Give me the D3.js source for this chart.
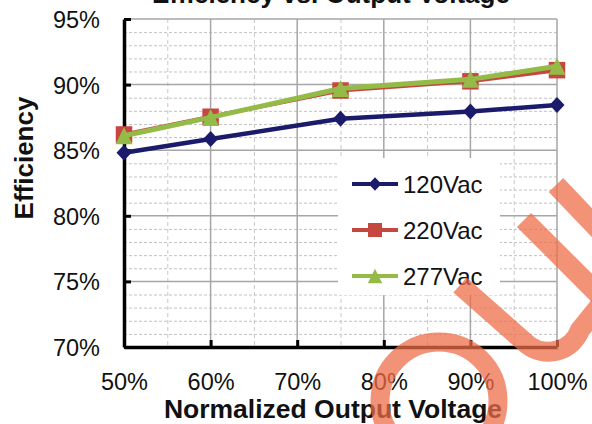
<!DOCTYPE html>
<html>
<head>
<meta charset="utf-8">
<script src="https://cdn.jsdelivr.net/npm/d3@7"></script>
<style>
  html, body { margin: 0; padding: 0; background: #fff; }
  svg { display: block; font-family: "Liberation Sans", Arial, sans-serif; }
</style>
</head>
<body>
<svg id="chart" width="592" height="424"></svg>
<script>
// Efficiency vs. normalized output voltage, three AC input lines
const voltagePct = [50, 60, 75, 90, 100];
const eff120 = [84.8, 85.85, 87.4, 87.95, 88.45];
const eff220 = [86.2, 87.55, 89.55, 90.25, 91.1];
const eff277 = [86.1, 87.5, 89.7, 90.4, 91.4];
const seriesNames = ["120Vac", "220Vac", "277Vac"];
const xTickValues = [50, 60, 70, 80, 90, 100];
const yTickValues = [70, 75, 80, 85, 90, 95];

// Marker shapes sized by their bounding box (w x h)
const boxSymbol = (kind, w, h) => ({
  draw(ctx) {
    const a = w / 2, b = h / 2;
    if (kind === "diamond") {
      ctx.moveTo(0, -b); ctx.lineTo(a, 0); ctx.lineTo(0, b); ctx.lineTo(-a, 0);
    } else if (kind === "square") {
      ctx.moveTo(-a, -b); ctx.lineTo(a, -b); ctx.lineTo(a, b); ctx.lineTo(-a, b);
    } else {
      ctx.moveTo(0, -b); ctx.lineTo(a, b); ctx.lineTo(-a, b);
    }
    ctx.closePath();
  }
});

const series = [
  { name: seriesNames[0], values: eff120, color: "#1b1b6b", width: 4.5,
    symbol: boxSymbol("diamond", 15, 16) },
  { name: seriesNames[1], values: eff220, color: "#c6473f", width: 4,
    symbol: boxSymbol("square", 16.5, 16.5) },
  { name: seriesNames[2], values: eff277, color: "#94bb47", width: 5,
    symbol: boxSymbol("triangle", 17, 17) }
];

const svg = d3.select("#chart");
const plotL = 124, plotR = 557, plotT = 19, plotB = 347;
const x = d3.scaleLinear().domain([50, 100]).range([plotL, plotR]);
const y = d3.scaleLinear().domain([70, 95]).range([plotB, plotT]);

// Title (sits mostly above the canvas)
svg.append("text")
  .attr("x", 331).attr("y", 3)
  .attr("text-anchor", "middle")
  .attr("font-weight", "bold").attr("font-size", 26)
  .attr("fill", "#111")
  .text("Efficiency vs. Output Voltage");

// Minor grid (dashed)
const grid = svg.append("g");
grid.selectAll("line.ym").data(d3.range(71, 95).filter(v => v % 5 !== 0)).join("line")
  .attr("x1", plotL).attr("x2", plotR)
  .attr("y1", d => y(d) + 0.5).attr("y2", d => y(d) + 0.5)
  .attr("stroke", "#c2c2c2").attr("stroke-dasharray", "3,2");
grid.selectAll("line.xm").data(d3.range(55, 100, 10)).join("line")
  .attr("y1", plotT).attr("y2", plotB)
  .attr("x1", d => x(d) + 0.5).attr("x2", d => x(d) + 0.5)
  .attr("stroke", "#c8c8c8").attr("stroke-dasharray", "4,3");
// Major grid (solid)
grid.selectAll("line.yM").data(yTickValues).join("line")
  .attr("x1", plotL).attr("x2", plotR)
  .attr("y1", d => y(d)).attr("y2", d => y(d))
  .attr("stroke", "#a6a6a6").attr("stroke-width", 1.5);
grid.selectAll("line.xM").data(xTickValues.slice(1)).join("line")
  .attr("y1", plotT).attr("y2", plotB)
  .attr("x1", d => x(d)).attr("x2", d => x(d))
  .attr("stroke", "#a6a6a6").attr("stroke-width", 1.5);

// Legend background hides the grid behind it
svg.append("rect")
  .attr("x", 338).attr("y", 158).attr("width", 162).attr("height", 137)
  .attr("fill", "#fff");

// Axes
const yAxis = d3.axisLeft(y).tickValues(yTickValues)
  .tickSizeInner(-7).tickSizeOuter(0).tickPadding(24)
  .tickFormat(d => d + "%");
const xAxis = d3.axisBottom(x).tickValues(xTickValues)
  .tickSizeInner(-7).tickSizeOuter(0).tickPadding(26)
  .tickFormat(d => d + "%");

const gy = svg.append("g").attr("transform", `translate(${plotL},0)`).call(yAxis);
const gx = svg.append("g").attr("transform", `translate(0,${plotB})`).call(xAxis);
[gx, gy].forEach(g => {
  g.select(".domain").attr("stroke", "#000").attr("stroke-width", 3.5);
  g.selectAll(".tick line").attr("stroke", "#000").attr("stroke-width", 3);
  g.selectAll(".tick text").attr("font-size", 23.5).attr("fill", "#111")
    .attr("font-family", "'Liberation Sans', Arial, sans-serif");
});
gy.selectAll(".tick text").attr("dy", "0.36em");
gx.selectAll(".tick text").attr("dy", "0.72em");

// Axis titles
svg.append("text")
  .attr("x", 333).attr("y", 418)
  .attr("text-anchor", "middle")
  .attr("font-weight", "bold").attr("font-size", 26.5)
  .attr("fill", "#111")
  .text("Normalized Output Voltage");
svg.append("text")
  .attr("transform", "translate(33,158) rotate(-90)")
  .attr("text-anchor", "middle")
  .attr("font-weight", "bold").attr("font-size", 26)
  .attr("fill", "#111")
  .text("Efficiency");

const line = d3.line().x(d => x(d[0])).y(d => y(d[1]));
const plot = svg.append("g");
series.forEach(s => {
  const pts = voltagePct.map((v, i) => [v, s.values[i]]);
  plot.append("path").datum(pts)
    .attr("d", line).attr("fill", "none")
    .attr("stroke", s.color).attr("stroke-width", s.width)
    .attr("stroke-linejoin", "round");
  plot.selectAll(null).data(pts).join("path")
    .attr("d", d3.symbol(s.symbol)())
    .attr("transform", d => `translate(${x(d[0])},${y(d[1])})`)
    .attr("fill", s.color);
});

// Legend entries
const legend = svg.append("g");
series.forEach((s, i) => {
  const ly = 184 + i * 46;
  legend.append("line")
    .attr("x1", 352).attr("x2", 398).attr("y1", ly).attr("y2", ly)
    .attr("stroke", s.color).attr("stroke-width", 4);
  legend.append("path")
    .attr("d", d3.symbol(s.symbol)())
    .attr("transform", `translate(375,${ly}) scale(0.85)`)
    .attr("fill", s.color);
  legend.append("text")
    .attr("x", 403).attr("y", ly).attr("dy", "0.36em")
    .attr("font-size", 24).attr("fill", "#111")
    .text(s.name);
});

// Watermark strokes over the chart
const wm = svg.append("g")
  .attr("fill", "none")
  .attr("stroke", "rgb(238,108,72)")
  .attr("stroke-opacity", 0.74)
  .attr("stroke-width", 20);
wm.append("circle").attr("cx", 439).attr("cy", 401).attr("r", 59).attr("stroke-width", 19);
wm.append("path").attr("d", "M556,185 L620,252");
wm.append("path").attr("d", "M524,220 L610,306");
wm.append("path").attr("d", "M460,285 L528,345 A34,34 0 0 0 580,330 L606,298");
</script>
</body>
</html>
